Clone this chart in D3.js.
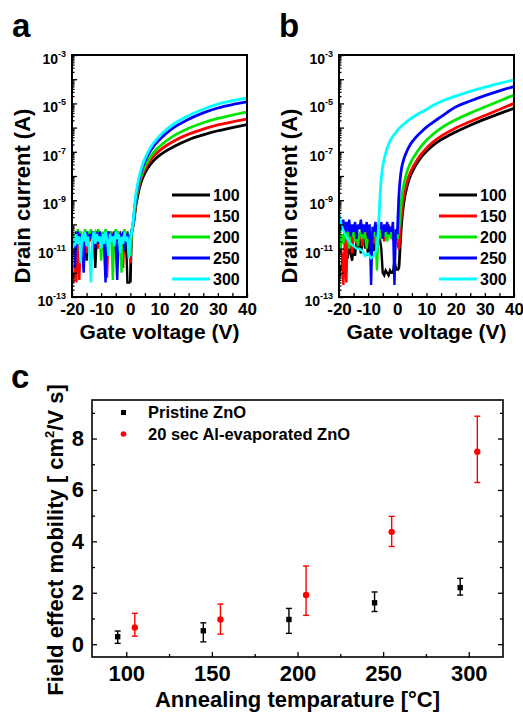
<!DOCTYPE html>
<html>
<head>
<meta charset="utf-8">
<script src="https://d3js.org/d3.v7.min.js"></script>
<style>
  body { margin: 0; background: #fff; }
  svg { display: block; font-family: "Liberation Sans", Arial, sans-serif; font-weight: bold; }
  .tick line { stroke: #000; stroke-width: 1.3px; }
</style>
</head>
<body>
<script>
// annealing temperatures (legend) and colours
var temps = ["100", "150", "200", "250", "300"];
var colors = ["#000000", "#ff0000", "#00e600", "#0000ff", "#00ffff"];

// gate voltage grids (V)
var offV = [-20,-19.5,-19,-18.5,-18,-17.5,-17,-16.5,-16,-15.5,-15,-14.5,-14,-13.5,-13,-12.5,-12,-11.5,-11,-10.5,
            -10,-9.5,-9,-8.5,-8,-7.5,-7,-6.5,-6,-5.5,-5,-4.5,-4,-3.5,-3,-2.5,-2,-1.5,-1,-0.5,0];
var onV = [0.5,1,1.5,2,2.5,3,4,5,6,8,10,12,15,20,25,30,35,40];

// panel a : log10(drain current / A)
var aOff100 = [-10.4,-10.7,-10.5,-10.3,-10.8,-10.5,-10.4,-10.6,-10.5,-10.3,-11.5,-10.4,-10.6,-10.5,-10.3,-10.7,-11.8,-10.4,-10.5,-10.3,-10.6,-10.4,-10.8,-10.5,-10.4,-10.6,-10.3,-10.5,-10.7,-10.4,-10.5,-10.3,-10.6,-10.4,-10.5,-10.8,-11.2,-10.5,-12.4,-12.4,-12.4];
var aOff150 = [-10.5,-12.4,-10.6,-12.4,-10.4,-12.3,-10.5,-10.8,-10.4,-10.6,-11.2,-10.4,-10.7,-10.5,-10.3,-10.8,-10.5,-10.4,-11.0,-10.5,-10.6,-10.4,-10.7,-10.5,-12.2,-10.4,-10.6,-10.3,-10.8,-10.5,-10.4,-10.7,-10.5,-10.4,-11.0,-11.8,-10.5,-10.4,-10.7,-10.5,-11.6];
var aOff200 = [-10.3,-10.6,-10.4,-10.8,-10.2,-10.5,-10.3,-11.0,-10.4,-10.2,-10.6,-10.3,-10.5,-10.2,-10.7,-10.4,-10.3,-10.6,-10.2,-10.5,-11.5,-10.3,-10.6,-10.2,-10.4,-10.8,-10.3,-10.5,-12.3,-10.4,-10.2,-10.6,-10.3,-10.5,-12.0,-10.4,-10.2,-10.7,-10.3,-10.5,-11.3];
var aOff250 = [-10.4,-10.8,-11.8,-10.5,-10.3,-10.7,-10.4,-10.9,-12.0,-10.5,-10.3,-10.8,-10.4,-10.6,-10.3,-11.0,-10.5,-10.4,-10.8,-10.3,-10.6,-10.4,-10.9,-12.4,-10.5,-10.3,-10.7,-10.4,-10.6,-10.3,-10.8,-12.3,-10.5,-10.4,-10.7,-10.3,-11.1,-10.5,-10.4,-10.8,-10.5];
var aOff300 = [-12.3,-10.5,-10.9,-10.4,-10.8,-10.5,-11.6,-10.4,-10.7,-10.3,-10.9,-10.5,-11.2,-12.4,-10.6,-10.3,-10.8,-10.4,-10.7,-10.5,-11.0,-10.4,-10.8,-10.3,-10.6,-11.3,-10.4,-10.7,-10.5,-10.9,-10.3,-10.6,-10.4,-11.2,-10.5,-10.8,-10.3,-10.7,-10.5,-11.4,-10.6];
var aOn100 = [-10.3,-10.05,-9.6,-9.15,-8.85,-8.55,-8.15,-7.88,-7.67,-7.36,-7.15,-6.98,-6.78,-6.5,-6.3,-6.13,-6.0,-5.88];
var aOn150 = [-10.3,-10.0,-9.5,-9.0,-8.7,-8.4,-8.0,-7.72,-7.5,-7.18,-6.95,-6.77,-6.55,-6.27,-6.06,-5.89,-5.76,-5.65];
var aOn200 = [-10.3,-9.95,-9.4,-8.9,-8.6,-8.3,-7.9,-7.6,-7.37,-7.02,-6.78,-6.58,-6.33,-6.03,-5.8,-5.62,-5.48,-5.36];
var aOn250 = [-10.3,-9.9,-9.3,-8.8,-8.45,-8.15,-7.72,-7.4,-7.15,-6.77,-6.5,-6.27,-5.99,-5.65,-5.39,-5.19,-5.05,-4.94];
var aOn300 = [-10.3,-9.85,-9.2,-8.7,-8.35,-8.05,-7.6,-7.28,-7.02,-6.63,-6.35,-6.12,-5.84,-5.5,-5.24,-5.03,-4.89,-4.78];

// panel b : log10(drain current / A)
var bOff100 = [-11.6,-11.9,-11.8,-11.2,-11.5,-11.0,-11.4,-10.8,-11.2,-11.5,-10.9,-11.3,-10.7,-11.0,-10.6,-11.2,-10.8,-10.5,-11.0,-10.7,-11.3,-10.6,-10.9,-10.5,-11.1,-10.7,-10.4,-10.8,-10.6,-11.0,-12.0,-12.1,-11.9,-12.0,-12.1,-11.9,-12.0,-12.0,-11.5,-11.8,-11.9];
var bOff150 = [-10.2,-10.8,-11.3,-12.5,-10.6,-12.4,-10.4,-10.9,-10.3,-11.2,-10.5,-10.3,-10.8,-10.4,-10.6,-10.3,-10.9,-10.4,-10.5,-10.3,-10.7,-10.4,-10.6,-10.3,-10.8,-10.4,-10.5,-10.3,-10.6,-10.4,-10.2,-10.7,-10.3,-10.5,-10.0,-10.4,-10.6,-10.3,-10.5,-10.4,-10.7];
var bOff200 = [-9.9,-11.1,-10.4,-10.8,-10.2,-10.6,-10.3,-11.0,-10.2,-10.5,-10.3,-10.7,-10.2,-10.9,-10.4,-10.3,-10.6,-10.2,-10.5,-11.0,-10.3,-10.4,-10.7,-10.3,-10.5,-10.2,-11.9,-10.4,-10.3,-10.6,-10.2,-10.5,-10.3,-10.7,-10.4,-10.2,-10.6,-10.3,-10.5,-10.2,-10.6];
var bOff250 = [-9.6,-9.9,-10.2,-9.8,-10.4,-9.9,-10.3,-9.8,-10.5,-10.0,-10.3,-9.9,-10.6,-10.0,-10.2,-9.8,-10.4,-10.0,-10.3,-9.9,-10.6,-10.0,-12.5,-10.1,-10.3,-9.9,-10.5,-10.0,-10.2,-9.9,-10.6,-10.0,-10.3,-9.9,-10.4,-10.1,-10.3,-9.9,-12.5,-10.2,-10.4];
var bOn100 = [-11.8,-10.8,-9.9,-9.3,-8.9,-8.6,-8.15,-7.85,-7.62,-7.25,-6.98,-6.76,-6.5,-6.18,-5.9,-5.65,-5.42,-5.2];
var bOn150 = [-11.0,-10.2,-9.5,-9.0,-8.65,-8.4,-8.0,-7.72,-7.5,-7.13,-6.85,-6.62,-6.35,-6.02,-5.75,-5.5,-5.25,-5.0];
var bOn200 = [-10.2,-9.6,-8.9,-8.5,-8.2,-7.95,-7.6,-7.35,-7.15,-6.8,-6.52,-6.3,-6.02,-5.68,-5.4,-5.15,-4.9,-4.65];
var bOn250 = [-8.9,-8.1,-7.65,-7.4,-7.2,-7.05,-6.8,-6.6,-6.45,-6.2,-5.98,-5.8,-5.55,-5.15,-4.9,-4.68,-4.48,-4.3];
// 300 C in panel b turns on earlier
var b300OffV = [-20,-19,-18,-17,-16,-15,-14,-13,-12,-11,-10,-9,-8,-7];
var b300Off = [-9.6,-10.1,-10.4,-10.6,-10.8,-10.9,-11.0,-11.0,-11.1,-11.3,-11.2,-11.4,-11.3,-11.0];
var b300OnV = [-6.5,-6,-5.5,-5,-4.5,-4,-3,-2,0,2,4,6,8,10,12,15,20,25,30,35,40];
var b300On = [-10.2,-9.0,-8.1,-7.6,-7.3,-7.05,-6.7,-6.45,-6.12,-5.88,-5.68,-5.52,-5.38,-5.25,-5.1,-4.92,-4.7,-4.5,-4.33,-4.17,-4.03];

// panel c : field effect mobility (cm2/V s)
var tPristine = [95, 145, 195, 245, 295];
var muPristine = [0.29, 0.52, 0.96, 1.61, 2.20];
var loPristine = [0.03, 0.09, 0.42, 1.27, 1.91];
var hiPristine = [0.51, 0.83, 1.39, 2.03, 2.56];
var tAl = [105, 155, 205, 255, 305];
var muAl = [0.65, 0.96, 1.91, 4.37, 7.49];
var loAl = [0.31, 0.39, 1.12, 3.80, 6.29];
var hiAl = [1.20, 1.56, 3.04, 4.97, 8.87];

var svg = d3.select("body").append("svg")
  .attr("width", 523).attr("height", 712);

function zip(vs, es) {
  return vs.map(function(v, i) { return [v, es[i]]; });
}

// transfer curve panel
function drawIV(left, right, top, bottom, series, letter, id) {
  var x = d3.scaleLinear().domain([-20, 40]).range([left, right]);
  var y = d3.scaleLog().domain([1e-13, 1e-3]).range([bottom, top]);
  var g = svg.append("g");

  g.append("clipPath").attr("id", id)
    .append("rect").attr("x", left).attr("y", top)
    .attr("width", right - left).attr("height", bottom - top);

  var noisy = d3.line()
    .x(function(d) { return x(d[0]); })
    .y(function(d) { return y(Math.pow(10, d[1])); });
  var smooth = d3.line()
    .curve(d3.curveMonotoneX)
    .x(function(d) { return x(d[0]); })
    .y(function(d) { return y(Math.pow(10, d[1])); });

  series.forEach(function(s, i) {
    var off = s[0], on = [s[0][s[0].length - 1]].concat(s[1]);
    g.append("path").datum(off)
      .attr("clip-path", "url(#" + id + ")")
      .attr("d", noisy)
      .attr("fill", "none").attr("stroke", colors[i])
      .attr("stroke-width", 2.4).attr("stroke-linejoin", "miter");
    g.append("path").datum(on)
      .attr("clip-path", "url(#" + id + ")")
      .attr("d", smooth)
      .attr("fill", "none").attr("stroke", colors[i])
      .attr("stroke-width", 2.8);
  });

  // log ticks
  var minor = [], major = [];
  for (var e = -13; e <= -3; e++) {
    major.push(Math.pow(10, e));
    if (e < -3) for (var k = 2; k <= 9; k++) minor.push(k * Math.pow(10, e));
  }
  g.append("g").attr("transform", "translate(" + left + ",0)")
    .call(d3.axisLeft(y).tickValues(minor).tickSize(-2.5).tickFormat(""))
    .call(function(a) { a.select(".domain").remove(); });
  g.append("g").attr("transform", "translate(" + left + ",0)")
    .call(d3.axisLeft(y).tickValues(major).tickSize(-5).tickFormat(""))
    .call(function(a) { a.select(".domain").remove(); });

  var labExp = [-3, -5, -7, -9, -11, -13];
  labExp.forEach(function(e) {
    var t = g.append("text")
      .attr("x", left - 6)
      .attr("y", y(Math.pow(10, e)) + 9)
      .attr("text-anchor", "end")
      .style("font-size", "14px");
    t.append("tspan").text("10");
    t.append("tspan").attr("dy", -7).style("font-size", "9px").text(e);
  });

  // bottom ticks every 5 V, labels every 10 V
  g.append("g").attr("transform", "translate(0," + bottom + ")")
    .call(d3.axisBottom(x).tickValues(d3.range(-20, 41, 5)).tickSize(-4)
      .tickPadding(6)
      .tickFormat(function(d) { return d % 10 === 0 ? d : ""; }))
    .call(function(a) {
      a.select(".domain").remove();
      a.selectAll("text").style("font-size", "17px").style("font-family", "inherit")
        .attr("fill", "#000");
    });

  g.append("rect").attr("x", left).attr("y", top)
    .attr("width", right - left).attr("height", bottom - top)
    .attr("fill", "none").attr("stroke", "#000").attr("stroke-width", 2);

  // legend
  temps.forEach(function(t, i) {
    var ly = 195 + 21 * i;
    g.append("line").attr("x1", left + 100).attr("x2", left + 138)
      .attr("y1", ly).attr("y2", ly)
      .attr("stroke", colors[i]).attr("stroke-width", 3);
    g.append("text").attr("x", left + 141).attr("y", ly + 6)
      .style("font-size", "16px").text(t);
  });

  g.append("text").attr("x", (left + right) / 2).attr("y", 339)
    .attr("text-anchor", "middle").style("font-size", "21px")
    .text("Gate voltage (V)");
  g.append("text")
    .attr("transform", "translate(" + (left - 42) + "," + ((top + bottom) / 2 + 20) + ") rotate(-90)")
    .attr("text-anchor", "middle").style("font-size", "22px")
    .text("Drain current (A)");
  g.append("text").attr("x", left - 60).attr("y", 37)
    .style("font-size", "33px").text(letter);
}

drawIV(72, 247, 55, 297, [
  [zip(offV, aOff100), zip(onV, aOn100)],
  [zip(offV, aOff150), zip(onV, aOn150)],
  [zip(offV, aOff200), zip(onV, aOn200)],
  [zip(offV, aOff250), zip(onV, aOn250)],
  [zip(offV, aOff300), zip(onV, aOn300)]
], "a", "clipA");

drawIV(339, 514, 55, 297, [
  [zip(offV, bOff100), zip(onV, bOn100)],
  [zip(offV, bOff150), zip(onV, bOn150)],
  [zip(offV, bOff200), zip(onV, bOn200)],
  [zip(offV, bOff250), zip(onV, bOn250)],
  [zip(b300OffV, b300Off), zip(b300OnV, b300On)]
], "b", "clipB");

// panel c : mobility vs annealing temperature
(function() {
  var left = 92, right = 503, top = 400, bottom = 657;
  var x = d3.scaleLinear().domain([80, 320]).range([left, right]);
  var y = d3.scaleLinear().domain([-0.5, 9.5]).range([bottom, top]);
  var g = svg.append("g");

  [[d3.axisLeft, left], [d3.axisRight, right]].forEach(function(p) {
    g.append("g").attr("transform", "translate(" + p[1] + ",0)")
      .call(p[0](y).tickValues([1, 3, 5, 7, 9]).tickSize(-3).tickFormat(""))
      .call(function(a) { a.select(".domain").remove(); });
  });
  g.append("g").attr("transform", "translate(" + right + ",0)")
    .call(d3.axisRight(y).tickValues([0, 2, 4, 6, 8]).tickSize(-5).tickFormat(""))
    .call(function(a) { a.select(".domain").remove(); });
  g.append("g").attr("transform", "translate(" + left + ",0)")
    .call(d3.axisLeft(y).tickValues([0, 2, 4, 6, 8]).tickSize(-5).tickPadding(8))
    .call(function(a) {
      a.select(".domain").remove();
      a.selectAll("text").style("font-size", "22px").style("font-family", "inherit").attr("fill", "#000");
    });
  g.append("g").attr("transform", "translate(0," + bottom + ")")
    .call(d3.axisBottom(x).tickValues([125, 175, 225, 275]).tickSize(-3).tickFormat(""))
    .call(function(a) { a.select(".domain").remove(); });
  g.append("g").attr("transform", "translate(0," + bottom + ")")
    .call(d3.axisBottom(x).tickValues([100, 150, 200, 250, 300]).tickSize(-5).tickPadding(8))
    .call(function(a) {
      a.select(".domain").remove();
      a.selectAll("text").style("font-size", "22px").style("font-family", "inherit").attr("fill", "#000");
    });

  g.append("rect").attr("x", left).attr("y", top)
    .attr("width", right - left).attr("height", bottom - top)
    .attr("fill", "none").attr("stroke", "#000").attr("stroke-width", 1.6);

  function errBars(ts, lo, hi, col) {
    ts.forEach(function(t, i) {
      var cx = x(t);
      g.append("line").attr("x1", cx).attr("x2", cx)
        .attr("y1", y(lo[i])).attr("y2", y(hi[i]))
        .attr("stroke", col).attr("stroke-width", 1.4);
      [lo[i], hi[i]].forEach(function(v) {
        g.append("line").attr("x1", cx - 3).attr("x2", cx + 3)
          .attr("y1", y(v)).attr("y2", y(v))
          .attr("stroke", col).attr("stroke-width", 1.4);
      });
    });
  }
  errBars(tPristine, loPristine, hiPristine, "#000");
  errBars(tAl, loAl, hiAl, "#ff0000");

  g.selectAll(".sq").data(tPristine).enter().append("rect")
    .attr("x", function(d) { return x(d) - 2.7; })
    .attr("y", function(d, i) { return y(muPristine[i]) - 2.7; })
    .attr("width", 5.4).attr("height", 5.4).attr("fill", "#000");
  g.selectAll(".dot").data(tAl).enter().append("circle")
    .attr("cx", function(d) { return x(d); })
    .attr("cy", function(d, i) { return y(muAl[i]); })
    .attr("r", 3.2).attr("fill", "#ff0000");

  // legend
  g.append("rect").attr("x", 121).attr("y", 410).attr("width", 5).attr("height", 5).attr("fill", "#000");
  g.append("circle").attr("cx", 123.5).attr("cy", 434).attr("r", 2.8).attr("fill", "#ff0000");
  g.append("text").attr("x", 148).attr("y", 418).style("font-size", "16.5px").text("Pristine ZnO");
  g.append("text").attr("x", 148).attr("y", 440).style("font-size", "16.5px").text("20 sec Al-evaporated ZnO");

  g.append("text").attr("x", (left + right) / 2).attr("y", 707)
    .attr("text-anchor", "middle").style("font-size", "22px")
    .text("Annealing temparature [\u00B0C]");
  var yl = g.append("text")
    .attr("transform", "translate(63," + 540 + ") rotate(-90)")
    .attr("text-anchor", "middle").style("font-size", "22px");
  yl.append("tspan").text("Field effect mobility [ cm");
  yl.append("tspan").attr("dy", -9).style("font-size", "13px").text("2");
  yl.append("tspan").attr("dy", 9).text("/V s]");

  g.append("text").attr("x", 11).attr("y", 388).style("font-size", "33px").text("c");
})();
</script>
</body>
</html>
